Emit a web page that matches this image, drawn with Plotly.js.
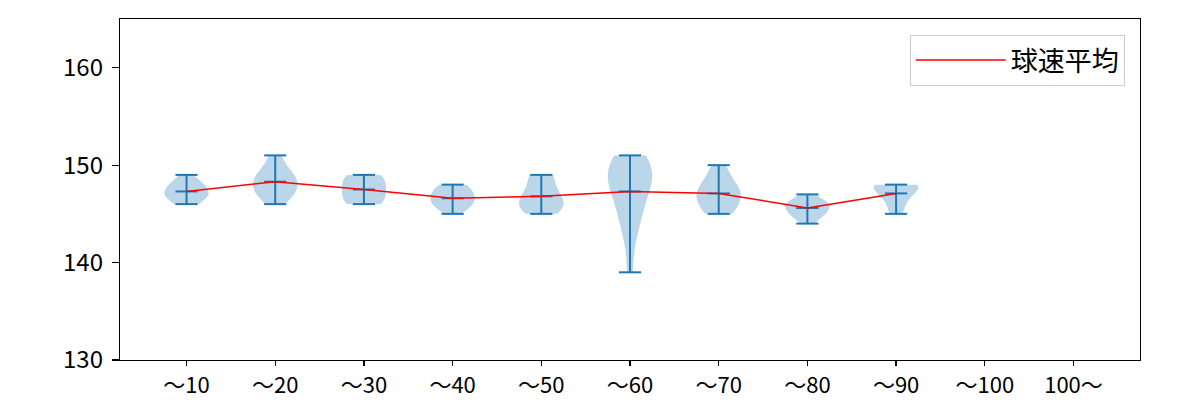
<!DOCTYPE html>
<html>
<head>
<meta charset="utf-8">
<script src="https://cdn.plot.ly/plotly-3.0.1.min.js"></script>
<style>
  html, body { margin: 0; padding: 0; background: #ffffff; }
  #chart { width: 1200px; height: 400px; }
</style>
</head>
<body>
<div id="chart"></div>
<script>
// Category labels (x axis)
const categories = ["～10", "～20", "～30", "～40", "～50", "～60", "～70", "～80", "～90", "～100", "100～"];

// Pitch speed samples per category (km/h), estimated from the violin shapes
const speeds10 = [146, 146, 147, 147, 147, 147, 148, 148, 148, 149];
const speeds20 = [146, 147, 147, 147, 148, 148, 148, 149, 149, 149, 150, 151];
const speeds30 = [146, 146, 147, 147, 148, 148, 149, 149];
const speeds40 = [145, 146, 146, 146, 147, 147, 147, 148, 148];
const speeds50 = [145, 145, 146, 146, 146, 147, 147, 148, 149, 149];
const speeds60 = [139, 143, 144, 145, 146, 147, 148, 148, 149, 149, 149, 150, 150, 151, 151];
const speeds70 = [145, 145, 146, 146, 147, 147, 147, 148, 148, 149, 150];
const speeds80 = [144, 145, 145, 145, 146, 146, 146, 146, 147];
const speeds90 = [145, 146, 147, 147, 148, 148, 148, 148];
const speeds100 = [];
const speeds100plus = [];

// Average pitch speed per category
const meanSpeed = [147.3, 148.3, 147.5, 146.6, 146.8, 147.3, 147.1, 145.6, 147.1, null, null];

const legendName = "球速平均";

const samples = [speeds10, speeds20, speeds30, speeds40, speeds50, speeds60,
                 speeds70, speeds80, speeds90, speeds100, speeds100plus];

const BLUE = "#1f77b4";
const FONT = "Noto Sans CJK JP, Noto Sans, sans-serif";
const positions = categories.map((_, i) => i);

function scottBandwidth(arr) {
  const n = arr.length;
  const m = arr.reduce((a, b) => a + b, 0) / n;
  const v = arr.reduce((a, b) => a + (b - m) * (b - m), 0) / (n - 1);
  return Math.sqrt(v) * Math.pow(n, -0.2);
}

const traces = [];
const half = 0.125;

samples.forEach((arr, i) => {
  if (!arr.length) return;
  traces.push({
    type: "violin",
    x0: positions[i],
    y: arr,
    width: 0.5,
    bandwidth: scottBandwidth(arr),
    spanmode: "hard",
    points: false,
    box: { visible: false },
    meanline: { visible: false },
    fillcolor: "rgba(31,119,180,0.3)",
    line: { width: 0, color: "rgba(31,119,180,0)" },
    hoverinfo: "skip",
    showlegend: false
  });
});

// caps (min, max, mean) and vertical bars
samples.forEach((arr, i) => {
  if (!arr.length) return;
  const mn = Math.min(...arr), mx = Math.max(...arr);
  const p = positions[i];
  const xs = [p - half, p + half, null, p - half, p + half, null, p - half, p + half, null, p, p];
  const ys = [mn, mn, null, mx, mx, null, meanSpeed[i], meanSpeed[i], null, mn, mx];
  traces.push({
    type: "scatter", mode: "lines", x: xs, y: ys,
    line: { color: BLUE, width: 2 },
    hoverinfo: "skip", showlegend: false, connectgaps: false
  });
});

// mean line
traces.push({
  type: "scatter", mode: "lines",
  x: positions, y: meanSpeed,
  name: legendName,
  line: { color: "red", width: 1.5 },
  connectgaps: false,
  showlegend: true
});

const layout = {
  width: 1200, height: 400,
  margin: { l: 120, r: 60, t: 19, b: 40 },
  paper_bgcolor: "#ffffff", plot_bgcolor: "#ffffff",
  font: { family: FONT, size: 24, color: "#000000" },
  violinmode: "overlay",
  showlegend: true,
  xaxis: {
    range: [-0.75, 10.75],
    tickmode: "array", tickvals: positions, ticktext: categories,
    showgrid: false, zeroline: false,
    showline: true, linecolor: "#000000", linewidth: 1.2, mirror: true,
    ticks: "outside", ticklen: 5, tickwidth: 1.2, tickcolor: "#000000",
    tickfont: { family: FONT, size: 22, color: "#000000" }
  },
  yaxis: {
    range: [130, 165],
    tickvals: [130, 140, 150, 160],
    showgrid: false, zeroline: false,
    showline: true, linecolor: "#000000", linewidth: 1.2, mirror: true,
    ticks: "outside", ticklen: 7, tickwidth: 1.2, tickcolor: "#000000",
    ticklabelstandoff: 4,
    tickfont: { family: FONT, size: 24, color: "#000000" }
  },
  legend: {
    x: 0.985, xanchor: "right", y: 0.953, yanchor: "top",
    itemwidth: 90,
    bgcolor: "#ffffff", bordercolor: "#cccccc", borderwidth: 1,
    font: { family: FONT, size: 27, color: "#000000" }
  }
};

Plotly.newPlot("chart", traces, layout, { displayModeBar: false, staticPlot: true });
</script>
</body>
</html>
